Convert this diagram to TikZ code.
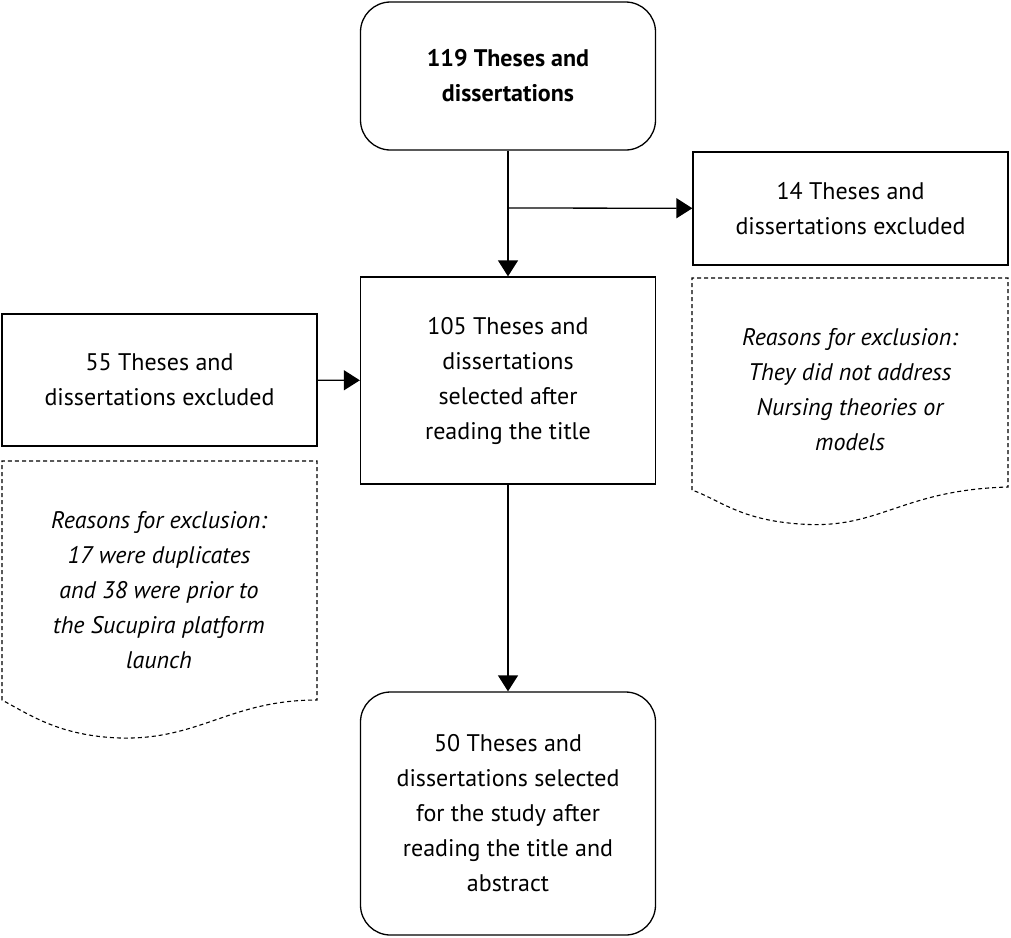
\documentclass[tikz,border=0pt]{standalone}
\usepackage{fontspec}
\setmainfont{PT Sans}
\usetikzlibrary{arrows.meta}
\begin{document}
\begin{tikzpicture}[x=1pt,y=-1pt,
  box/.style={draw,line width=1.3pt,align=center,font=\fontsize{24}{35}\selectfont,inner sep=0pt},
  txt/.style={align=center,font=\fontsize{24}{35}\selectfont\itshape},
  arr/.style={line width=1.3pt,-{Triangle[length=16pt,width=20pt]}},
  doc/.style={line width=1.1pt,dashed,dash pattern=on 4pt off 3pt}]
\useasboundingbox (0,0) rectangle (1011,937);
\node[box,rounded corners=30pt,minimum width=295pt,minimum height=148pt,font=\fontsize{24}{35}\selectfont\bfseries] (top) at (508,76) {119 Theses and\\dissertations};
\node[box,minimum width=315pt,minimum height=113pt] (r) at (850.5,208.5) {14 Theses and\\dissertations excluded};
\node[box,minimum width=295pt,minimum height=207pt] (mid) at (508,380.5) {105 Theses and\\dissertations\\selected after\\reading the title};
\node[box,minimum width=315pt,minimum height=132pt] (l) at (159.5,380) {55 Theses and\\dissertations excluded};
\node[box,rounded corners=30pt,minimum width=295pt,minimum height=243pt] (bot) at (508,813.5) {50 Theses and\\dissertations selected\\for the study after\\reading the title and\\abstract};
\draw[doc] (692,490) -- (692,278) -- (1008,278) -- (1008,487) .. controls (900,490) and (880,530) .. (800,524) .. controls (740,520) and (720,500) .. (692,490);
\node[txt] (rt) at (850,390) {Reasons for exclusion:\\They did not address\\Nursing theories or\\models};
\draw[doc] (2,700) -- (2,461) -- (317,461) -- (317,700) .. controls (230,700) and (200,740) .. (120,738) .. controls (60,736) and (30,715) .. (2,700);
\node[txt] (lt) at (159,590) {Reasons for exclusion:\\17 were duplicates\\and 38 were prior to\\the Sucupira platform\\launch};
\draw[arr] (top) -- (mid);
\coordinate (br) at (508,208);
\draw[arr] (br) -- (r);
\draw[arr] (l) -- (mid);
\draw[arr] (mid) -- (bot);
\end{tikzpicture}
\end{document}
